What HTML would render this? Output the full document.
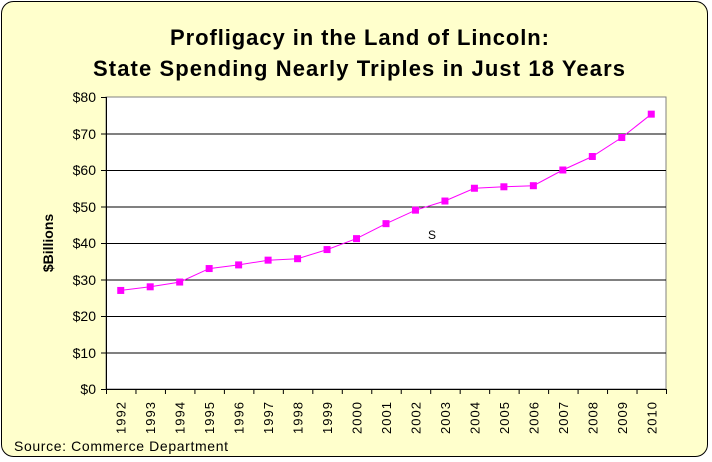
<!DOCTYPE html>
<html><head><style>
html,body{margin:0;padding:0;background:#fff;}
svg{display:block;font-family:"Liberation Sans",Arial,sans-serif;}
</style></head><body>
<svg width="712" height="462" viewBox="0 0 712 462" xmlns="http://www.w3.org/2000/svg">
<rect x="1.5" y="1.5" width="706" height="455" rx="12" fill="#FFFFCC" stroke="#000" stroke-width="1"/>
<text x="170" y="45" font-size="22" font-weight="bold" textLength="379" lengthAdjust="spacing">Profligacy in the Land of Lincoln:</text>
<text x="93" y="76" font-size="22" font-weight="bold" textLength="532" lengthAdjust="spacing">State Spending Nearly Triples in Just 18 Years</text>
<rect x="106" y="97" width="560" height="292" fill="#fff" stroke="#808080"/>
<g stroke="#000" stroke-width="1">
<line x1="101" y1="97.5" x2="106" y2="97.5"/>
<line x1="101" y1="134" x2="666" y2="134"/>
<line x1="101" y1="170.5" x2="666" y2="170.5"/>
<line x1="101" y1="207" x2="666" y2="207"/>
<line x1="101" y1="243.5" x2="666" y2="243.5"/>
<line x1="101" y1="280" x2="666" y2="280"/>
<line x1="101" y1="316.5" x2="666" y2="316.5"/>
<line x1="101" y1="353" x2="666" y2="353"/>
<line x1="101" y1="389.5" x2="666" y2="389.5"/>
<line x1="106.5" y1="97" x2="106.5" y2="389"/>
</g>
<g font-size="14" text-anchor="end">
<text x="96" y="102">$80</text><text x="96" y="139">$70</text><text x="96" y="175">$60</text>
<text x="96" y="212">$50</text><text x="96" y="248">$40</text><text x="96" y="285">$30</text>
<text x="96" y="321">$20</text><text x="96" y="358">$10</text><text x="96" y="394">$0</text>
</g>
<text transform="translate(53,243) rotate(-90)" text-anchor="middle" font-size="14" font-weight="bold">$Billions</text>
<g id="ticks" stroke="#000"></g>
<g id="xl" font-size="13"></g>
<text x="428" y="239" font-size="12">S</text>
<polyline id="ln" fill="none" stroke="#FF00FF" stroke-width="1"/>
<g id="mk" fill="#FF00FF"></g>
<text x="14" y="451" font-size="14" textLength="214" lengthAdjust="spacing">Source: Commerce Department</text>
<script>
var v=[27,28,29.3,33,34,35.3,35.7,38.2,41.2,45.3,49,51.5,55,55.4,55.7,60,63.7,68.9,75.3];
var ns="http://www.w3.org/2000/svg",pts=[],w=560/19;
var t=document.getElementById('ticks'),xl=document.getElementById('xl'),mk=document.getElementById('mk');
for(var i=0;i<=19;i++){var x=106.5+i*w;var l=document.createElementNS(ns,'line');l.setAttribute('x1',x);l.setAttribute('x2',x);l.setAttribute('y1',389);l.setAttribute('y2',394);t.appendChild(l);}
for(var i=0;i<19;i++){var x=106+w*(i+0.5),y=389-v[i]*3.65;pts.push(x.toFixed(1)+','+y.toFixed(1));
var r=document.createElementNS(ns,'rect');r.setAttribute('x',x-3.5);r.setAttribute('y',y-3.5);r.setAttribute('width',7);r.setAttribute('height',7);mk.appendChild(r);
var tx=document.createElementNS(ns,'text');tx.setAttribute('transform','translate('+(x+5)+',434) rotate(-90)');tx.setAttribute('textLength','32');tx.textContent=1992+i;xl.appendChild(tx);}
document.getElementById('ln').setAttribute('points',pts.join(' '));
</script>
</svg>
</body></html>
